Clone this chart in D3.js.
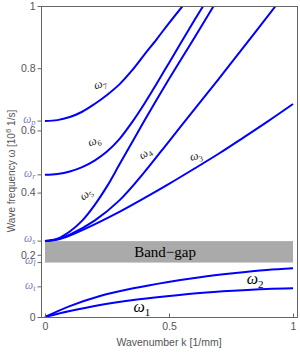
<!DOCTYPE html>
<html>
<head>
<meta charset="utf-8">
<script src="https://cdn.jsdelivr.net/npm/d3@7"></script>
<style>
  body { margin: 0; background: #fff; }
  svg { display: block; }
</style>
</head>
<body>
<div id="chart"></div>
<script>
// tick values
const kTicks = [0, 0.5, 1]
const wTicks = [0, 0.2, 0.4, 0.6, 0.8, 1]

// special frequencies marked on the left axis
const specialNames = ['p', 'r', 's', 'l', 't']
const specialValues = [0.630, 0.457, 0.244, 0.175, 0.097]

// band gap between omega_l and omega_s
const bandGap = [0.175, 0.244]

// dispersion branches
const w1K = [0, 0.1, 0.222, 0.356, 0.491, 0.625, 0.759, 0.894, 1]
const w1W = [0, 0.019, 0.0386, 0.0547, 0.067, 0.0775, 0.0846, 0.090, 0.0922]
const w2K = [0, 0.1, 0.222, 0.356, 0.491, 0.625, 0.759, 0.894, 1]
const w2W = [0, 0.035, 0.0675, 0.0923, 0.112, 0.128, 0.1405, 0.151, 0.1565]
const w3K = [0, 0.05, 0.1, 0.2, 0.3, 0.4, 0.5, 0.6, 0.7, 0.8, 0.9, 1]
const w3W = [0.244, 0.249, 0.262, 0.298, 0.338, 0.382, 0.428, 0.476, 0.525, 0.577, 0.630, 0.685]
const w4K = [0, 0.05, 0.1, 0.2, 0.3, 0.4, 0.5, 0.6, 0.7, 0.8, 0.93]
const w4W = [0.244, 0.25, 0.265, 0.31, 0.375, 0.465, 0.565, 0.665, 0.765, 0.867, 1.0]
const w5K = [0, 0.05, 0.1, 0.15, 0.2, 0.25, 0.3, 0.4, 0.5, 0.6, 0.68]
const w5W = [0.244, 0.252, 0.275, 0.31, 0.36, 0.42, 0.49, 0.63, 0.765, 0.895, 1.0]
const w6K = [0, 0.05, 0.1, 0.15, 0.2, 0.25, 0.3, 0.35, 0.4, 0.45, 0.5, 0.55, 0.6, 0.638]
const w6W = [0.457, 0.46, 0.468, 0.482, 0.503, 0.532, 0.572, 0.625, 0.685, 0.75, 0.817, 0.884, 0.951, 1.0]
const w7K = [0, 0.05, 0.1, 0.15, 0.2, 0.25, 0.3, 0.35, 0.4, 0.45, 0.5, 0.555]
const w7W = [0.630, 0.633, 0.643, 0.66, 0.685, 0.714, 0.748, 0.792, 0.843, 0.893, 0.945, 1.0]

// branch labels: name, position (k, w), tilt
const labelNames = ['1', '2', '3', '4', '5', '6', '7']
const labelK = [0.391, 0.847, 0.609, 0.403, 0.165, 0.198, 0.222]
const labelW = [0.032, 0.122, 0.518, 0.527, 0.395, 0.566, 0.749]
const labelTilt = [0, 0, -12, -35, -38, -20, -18]

const width = 300
const height = 353
const frame = { left: 41, right: 297, top: 6, bottom: 317 }

const svg = d3.select('#chart').append('svg')
  .attr('width', width)
  .attr('height', height)

const x = d3.scaleLinear().domain([0, 1]).range([frame.left + 4, frame.right - 4])
const y = d3.scaleLinear().domain([0, 1]).range([frame.bottom, frame.top])

const axisColor = '#666'
const textColor = '#555'
const sans = 'Liberation Sans, Arial, sans-serif'
const serif = 'Liberation Serif, Times New Roman, serif'

svg.append('defs').append('clipPath').attr('id', 'clip')
  .append('rect')
  .attr('x', frame.left).attr('y', frame.top)
  .attr('width', frame.right - frame.left)
  .attr('height', frame.bottom - frame.top)

// band gap
svg.append('rect')
  .attr('x', x(0))
  .attr('y', y(bandGap[1]))
  .attr('width', x(1) - x(0))
  .attr('height', y(bandGap[0]) - y(bandGap[1]))
  .attr('fill', '#aaaaaa')

svg.append('text')
  .attr('x', x(0.484))
  .attr('y', (y(bandGap[0]) + y(bandGap[1])) / 2)
  .attr('dy', '0.35em')
  .attr('text-anchor', 'middle')
  .attr('font-family', serif)
  .attr('font-size', 15)
  .attr('fill', '#000')
  .text('Band\u2212gap')

// branches
const branches = [
  [w1K, w1W], [w2K, w2W], [w3K, w3W], [w4K, w4W],
  [w5K, w5W], [w6K, w6W], [w7K, w7W]
]

const line = d3.line()
  .x(d => x(d[0]))
  .y(d => y(d[1]))
  .curve(d3.curveCatmullRom.alpha(0.5))

svg.append('g')
  .attr('clip-path', 'url(#clip)')
  .selectAll('path')
  .data(branches)
  .enter().append('path')
  .attr('d', b => line(b[0].map((k, i) => [k, b[1][i]])))
  .attr('fill', 'none')
  .attr('stroke', '#0000ff')
  .attr('stroke-width', 2)

// frame
svg.append('rect')
  .attr('x', frame.left + 0.5)
  .attr('y', frame.top + 0.5)
  .attr('width', frame.right - frame.left)
  .attr('height', frame.bottom - frame.top)
  .attr('fill', 'none')
  .attr('stroke', axisColor)
  .attr('stroke-width', 1)

// y axis
const yAxis = d3.axisLeft(y)
  .tickValues(wTicks)
  .tickSize(4)
  .tickFormat(d3.format('~g'))

const gy = svg.append('g')
  .attr('transform', `translate(${frame.left + 0.5},0)`)
  .call(yAxis)
gy.select('.domain').remove()
gy.selectAll('line').attr('stroke', axisColor)
gy.selectAll('text')
  .attr('fill', textColor)
  .attr('font-family', sans)
  .attr('font-size', 10.5)
  .attr('x', -6)

// special frequency ticks
const sp = svg.append('g')
  .selectAll('g')
  .data(specialNames)
  .enter().append('g')
  .attr('transform', (d, i) => `translate(${frame.left + 0.5},${y(specialValues[i])})`)

sp.append('line')
  .attr('x1', -4).attr('x2', 0)
  .attr('stroke', axisColor)

const spText = sp.append('text')
  .attr('x', -6)
  .attr('dy', (d, i) => d === 's' ? '0.05em' : '0.15em')
  .attr('text-anchor', 'end')
  .attr('font-family', serif)
  .attr('font-style', 'italic')
  .attr('font-size', 11.5)
  .attr('fill', '#7a80b8')
spText.append('tspan').text('\u03c9')
spText.append('tspan')
  .attr('font-size', 8.5)
  .attr('dy', '0.25em')
  .text(d => d)

// x axis
const xAxis = d3.axisBottom(x)
  .tickValues(kTicks)
  .tickSize(-4)
  .tickFormat(d3.format('~g'))

const gx = svg.append('g')
  .attr('transform', `translate(0,${frame.bottom + 0.5})`)
  .call(xAxis)
gx.select('.domain').remove()
gx.selectAll('line').attr('stroke', axisColor)
gx.selectAll('text')
  .attr('fill', textColor)
  .attr('font-family', sans)
  .attr('font-size', 10.5)
  .attr('y', 5)

// axis titles
svg.append('text')
  .attr('x', (x(0) + x(1)) / 2)
  .attr('y', 346)
  .attr('text-anchor', 'middle')
  .attr('font-family', sans)
  .attr('font-size', 10.5)
  .attr('fill', textColor)
  .text('Wavenumber k [1/mm]')

const yTitle = svg.append('text')
  .attr('transform', 'translate(15,171) rotate(-90)')
  .attr('text-anchor', 'middle')
  .attr('font-family', sans)
  .attr('font-size', 10)
  .attr('fill', textColor)
yTitle.append('tspan').text('Wave frequency \u03c9 [10')
yTitle.append('tspan').attr('dy', -4).attr('font-size', 8).text('6')
yTitle.append('tspan').attr('dy', 4).text(' 1/s]')

// branch labels
const big = [true, true, false, false, false, false, false]
const lab = svg.append('g')
  .selectAll('text')
  .data(labelNames)
  .enter().append('text')
  .attr('transform', (d, i) => `translate(${x(labelK[i])},${y(labelW[i])}) rotate(${labelTilt[i]})`)
  .attr('text-anchor', 'middle')
  .attr('dy', '0.3em')
  .attr('font-family', serif)
  .attr('font-style', 'italic')
  .attr('font-size', (d, i) => big[i] ? 16 : 12)
  .attr('fill', (d, i) => big[i] ? '#000' : '#222')
lab.append('tspan').text('\u03c9')
lab.append('tspan')
  .attr('font-style', 'normal')
  .attr('font-size', (d, i) => big[i] ? 11 : 8)
  .attr('dy', '0.35em')
  .text(d => d)
</script>
</body>
</html>
